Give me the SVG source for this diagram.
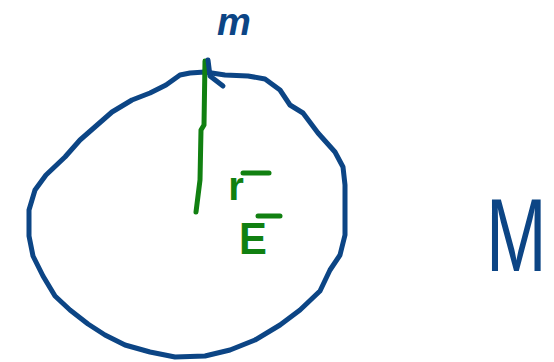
<svg xmlns="http://www.w3.org/2000/svg" width="554" height="362" viewBox="0 0 554 362">
<style>
.b{fill:none;stroke:#0c4585;stroke-width:5;stroke-linecap:round;stroke-linejoin:round}
.g{fill:none;stroke:#118011;stroke-width:5;stroke-linecap:round;stroke-linejoin:round}
.tb{font-family:"Liberation Sans",sans-serif;fill:#0c4585}
.tg{font-family:"Liberation Sans",sans-serif;fill:#118011}
</style>
<rect width="554" height="362" fill="#fff"/>
<g id="sphere">
<path class="b" d="M190,73 L205,72 L225,75 L248,76 L265,79 L280,90 L290,105 L303,113 L318,133 L335,152 L343,167 L345,185 L345,235 L340,255 L330,270 L320,291 L300,310 L280,325 L255,340 L230,350 L205,356 L175,357 L150,352 L125,345 L105,335 L88,324 L70,310 L55,296 L43,276 L33,256 L29,236 L29,210 L35,190 L46,175 L65,157 L80,140 L96,126 L112,112 L132,100 L150,93 L166,85 L180,75 Z"/>
</g>
<g id="connectors">
<path class="g" d="M205,61 L204,125 L201,130 L200,180 L196,212"/>
<path class="b" d="M208,60 L210,76 L223,86"/>
</g>
<g id="labels">
<text class="tb" x="234" y="35" font-size="38" font-weight="bold" font-style="italic" text-anchor="middle">m</text>
<text class="tg" x="236" y="200" font-size="40" font-weight="bold" text-anchor="middle">r</text>
<path class="g" d="M243,173 L269,173"/>
<text class="tg" x="253" y="254" font-size="44" font-weight="bold" text-anchor="middle" transform="translate(253 0) scale(0.95 1) translate(-253 0)">E</text>
<path class="g" d="M258,216 L280,216"/>
<text class="tb" x="0" y="0" font-size="104" transform="translate(486 271) scale(0.7 1)">M</text>
</g>
</svg>
